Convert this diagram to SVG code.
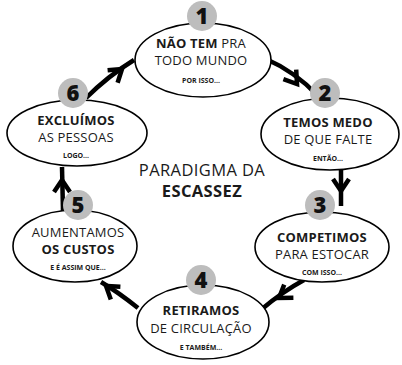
<svg xmlns="http://www.w3.org/2000/svg" width="402" height="365" viewBox="0 0 402 365">
<style>
.bg{fill:#fff}
.ell{fill:#fff;stroke:#000;stroke-width:1.6}
.num{fill:#bdbdbd}
.numt{font-family:"Open Sans",sans-serif;font-weight:800;font-size:22px;fill:#111;text-anchor:middle}
.t{font-family:"Open Sans",sans-serif;font-size:13px;font-weight:500;letter-spacing:0.2px;fill:#1a1a1a;text-anchor:middle}
.s{font-family:"Open Sans",sans-serif;font-size:7px;font-weight:700;fill:#1a1a1a;text-anchor:middle}
.c{font-family:"Open Sans",sans-serif;font-size:16.5px;font-weight:500;letter-spacing:0.4px;fill:#1a1a1a;text-anchor:middle}
.b{font-weight:700}
.ln{fill:none;stroke:#000;stroke-width:4.5;stroke-linecap:butt}
.ch{fill:none;stroke:#000;stroke-width:4.5;stroke-linejoin:miter;stroke-miterlimit:10}
</style>
<rect class="bg" x="0" y="0" width="402" height="365"/>
<g id="connectors">
  <path class="ln" d="M86,98 Q108,76 134,60"/>
  <polyline class="ch" points="107.6,70.3 122,69 117.6,82.7"/>
  <path class="ln" d="M264,58 Q296,72 318,96"/>
  <polyline class="ch" points="296.2,69.6 297,84 283.4,79.2"/>
  <path class="ln" d="M341,170 L341,206"/>
  <polyline class="ch" points="333,179 341,191 349,179"/>
  <path class="ln" d="M304,280 Q282,292 262,309"/>
  <polyline class="ch" points="293.4,297.8 279,298 284.2,284.6"/>
  <path class="ln" d="M138,308 Q118,292 101,282"/>
  <polyline class="ch" points="120.4,286.8 106,286 110.8,299.6"/>
  <path class="ln" d="M63,211 L62,167"/>
  <polyline class="ch" points="54,192 62,180 70,192"/>
</g>
<g id="node1">
  <ellipse class="ell" cx="203" cy="60" rx="68" ry="37"/>
  <circle class="num" cx="202" cy="16" r="15"/>
  <text class="numt" x="202" y="24">1</text>
  <text class="t" x="201" y="48"><tspan class="b">NÃO TEM</tspan> PRA</text>
  <text class="t" x="201" y="65">TODO MUNDO</text>
  <text class="s" x="201" y="83">POR ISSO...</text>
</g>
<g id="node2">
  <ellipse class="ell" cx="330" cy="134" rx="69" ry="36"/>
  <circle class="num" cx="325" cy="93" r="15"/>
  <text class="numt" x="325" y="101">2</text>
  <text class="t b" x="328" y="127">TEMOS MEDO</text>
  <text class="t" x="328" y="144">DE QUE FALTE</text>
  <text class="s" x="328" y="161">ENTÃO...</text>
</g>
<g id="node3">
  <ellipse class="ell" cx="322" cy="247" rx="67" ry="35"/>
  <circle class="num" cx="320" cy="205" r="15"/>
  <text class="numt" x="320" y="213">3</text>
  <text class="t b" x="322" y="242">COMPETIMOS</text>
  <text class="t" x="322" y="259">PARA ESTOCAR</text>
  <text class="s" x="322" y="275">COM ISSO...</text>
</g>
<g id="node4">
  <ellipse class="ell" cx="203" cy="322" rx="66" ry="37"/>
  <circle class="num" cx="201" cy="280" r="15"/>
  <text class="numt" x="201" y="288">4</text>
  <text class="t b" x="201" y="315">RETIRAMOS</text>
  <text class="t" x="201" y="333">DE CIRCULAÇÃO</text>
  <text class="s" x="201" y="350">E TAMBÉM...</text>
</g>
<g id="node5">
  <ellipse class="ell" cx="75" cy="246" rx="62" ry="36"/>
  <circle class="num" cx="78" cy="205" r="15"/>
  <text class="numt" x="78" y="213">5</text>
  <text class="t" x="78" y="237">AUMENTAMOS</text>
  <text class="t b" x="78" y="254">OS CUSTOS</text>
  <text class="s" x="78" y="270">E É ASSIM QUE...</text>
</g>
<g id="node6">
  <ellipse class="ell" cx="77" cy="133" rx="70" ry="33"/>
  <circle class="num" cx="73" cy="93" r="15"/>
  <text class="numt" x="73" y="101">6</text>
  <text class="t b" x="76" y="125">EXCLUÍMOS</text>
  <text class="t" x="76" y="142">AS PESSOAS</text>
  <text class="s" x="76" y="158">LOGO...</text>
</g>
<g id="center">
  <text class="c" x="202" y="176">PARADIGMA DA</text>
  <text class="c b" x="202" y="197">ESCASSEZ</text>
</g>
</svg>
